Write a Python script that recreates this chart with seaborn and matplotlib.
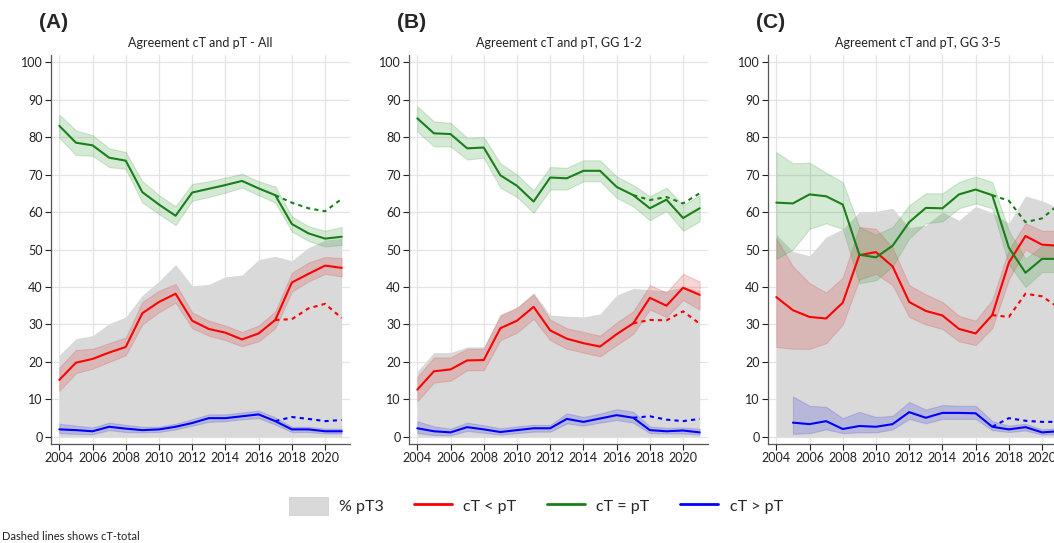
import numpy as np
import pandas as pd
import matplotlib
matplotlib.use("Agg")
import matplotlib.pyplot as plt
import seaborn as sns
from matplotlib.patches import Patch
from matplotlib.lines import Line2D

years = list(range(2004, 2022))
total_years = [2017, 2018, 2019, 2020, 2021]

titles = ["Agreement cT and pT - All", "Agreement cT and pT, GG 1-2", "Agreement cT and pT, GG 3-5"]
letters = ["(A)", "(B)", "(C)"]

# ---- panel A ----
A_pt3 = [21.8, 26.2, 27, 30.2, 32, 37.8, 41.5, 46, 40.3, 40.7, 42.7, 43.2, 47.3, 48.2, 47, 50.5, 52.5, 53]
A_green = [83, 78.5, 77.8, 74.5, 73.7, 65.3, 62, 59, 65.2, 66.2, 67.2, 68.3, 66.3, 64.5, 56.8, 54.3, 52.9, 53.4]
A_green_lo = [79.8, 75.2, 75, 72, 71.5, 62.5, 59.5, 56.5, 63, 64, 65.2, 66.5, 64.5, 62.5, 54.8, 52.3, 50.8, 51.2]
A_green_hi = [86, 81.8, 80.5, 77, 76, 68.2, 64.5, 61.5, 67.5, 68.2, 69.2, 70.2, 68.2, 66.8, 58.8, 56.2, 55, 56]
A_red = [15.2, 19.8, 20.8, 22.5, 24, 33, 36, 38.2, 31, 28.8, 27.8, 26, 27.6, 31.2, 41.2, 43.5, 45.7, 45.1]
A_red_lo = [12.3, 17, 18.2, 20, 21.8, 30, 33.3, 35.8, 29, 27, 25.8, 24.2, 25.5, 29, 38.8, 41.5, 43.5, 42.8]
A_red_hi = [18.5, 23.2, 23.5, 25, 26.5, 36, 39, 40.8, 33.2, 31, 29.7, 28, 29.7, 33.5, 43.8, 46.5, 48, 47.7]
A_blue = [2, 1.8, 1.5, 2.7, 2.2, 1.8, 2, 2.7, 3.7, 5, 5, 5.5, 6, 4.2, 2, 2, 1.5, 1.5]
A_blue_lo = [1, 0.8, 0.7, 1.8, 1.3, 1.2, 1.3, 2, 3, 4, 4.2, 4.7, 5, 3.3, 1.3, 1.3, 0.9, 0.9]
A_blue_hi = [3.5, 3, 2.5, 3.8, 3.2, 2.7, 2.7, 3.5, 4.7, 6, 6, 6.5, 7, 5.2, 2.7, 2.7, 2.2, 2.2]
A_green_total = [64.5, 62.5, 61, 60.2, 63.5]
A_red_total = [31.2, 31.4, 34.3, 35.5, 31.7]
A_blue_total = [4.2, 5.3, 4.8, 4.2, 4.5]

# ---- panel B ----
B_pt3 = [17.5, 22.5, 22.5, 24, 24, 32.5, 34.5, 38.5, 32.5, 32.2, 32, 32.8, 37.8, 39.6, 39.3, 39, 40, 39]
B_green = [85, 81, 80.8, 77, 77.2, 69.8, 67, 62.8, 69.2, 69, 71, 71, 66.7, 64.5, 61, 63.3, 58.4, 61]
B_green_lo = [81.5, 77.5, 77.5, 74, 74.5, 66.5, 64, 59.8, 66, 66, 68.2, 68.2, 63.8, 61.5, 57.8, 60.3, 55, 57.5]
B_green_hi = [88.2, 84.2, 83.8, 79.8, 80, 73, 70, 65.8, 72, 71.8, 73.8, 73.8, 69.5, 67.2, 64.2, 66.5, 61.8, 64.5]
B_red = [12.6, 17.5, 18, 20.4, 20.5, 29, 31, 34.7, 28.4, 26.2, 25, 24.1, 27.4, 30.3, 37.1, 35, 39.8, 37.9]
B_red_lo = [9.5, 14.5, 15, 17.8, 17.8, 25.8, 27.8, 31.5, 25.8, 23.5, 22.5, 21.5, 24.5, 27.5, 34, 32, 36.5, 34]
B_red_hi = [16, 21.2, 21.2, 23.5, 23.5, 32.5, 34.5, 38, 31.3, 29, 28, 27, 30.5, 33.5, 40.5, 38.5, 43.5, 41.5]
B_blue = [2.3, 1.5, 1.2, 2.6, 2, 1.3, 1.8, 2.3, 2.3, 4.8, 4, 4.9, 5.8, 5.1, 1.8, 1.5, 1.7, 1.2]
B_blue_lo = [1, 0.5, 0.4, 1.6, 1.1, 0.6, 1, 1.4, 1.4, 3.6, 3, 3.8, 4.5, 3.8, 1, 0.9, 0.9, 0.6]
B_blue_hi = [4.2, 2.8, 2.2, 3.8, 3.1, 2.3, 2.8, 3.2, 3.2, 6.3, 5.3, 6.2, 7.4, 6.7, 2.8, 2.4, 2.5, 2.2]
B_green_total = [64.5, 63.2, 64, 62.3, 65]
B_red_total = [30.3, 31.2, 31.1, 33.5, 30.2]
B_blue_total = [5.1, 5.5, 4.6, 4.2, 4.8]

# ---- panel C ----
C_pt3 = [54, 49.5, 48.3, 53.3, 55.5, 60, 60.2, 61, 55.8, 56.5, 60, 57.8, 61.5, 59.8, 57, 64.3, 63, 61]
C_green = [62.5, 62.3, 64.7, 64.2, 62, 48.6, 47.9, 51, 57.3, 61.1, 61, 64.7, 66, 64.5, 50.5, 43.8, 47.5, 47.5]
C_green_lo = [47.5, 50, 55.5, 57, 55.5, 41, 41.8, 45.5, 53, 57, 57.5, 61, 62.3, 61, 46, 40, 44, 44]
C_green_hi = [76, 73, 73.2, 70.5, 68, 56, 54, 56, 61.8, 65, 65, 68, 69.5, 68, 55, 47.5, 51, 51]
C_red = [37.3, 33.8, 32, 31.6, 35.8, 48.5, 49.3, 45.5, 36, 33.6, 32.4, 28.8, 27.6, 32.5, 46.5, 53.6, 51.3, 51]
C_red_lo = [24, 23.5, 23.5, 25, 30, 42, 43.5, 40.5, 32, 30, 28.8, 25.5, 24.5, 29, 42, 50, 47.5, 47.5]
C_red_hi = [53, 45.5, 41, 38.5, 42.5, 56, 55.5, 50.5, 40.5, 38, 36, 32.3, 31, 36.5, 50, 57, 55, 55]
C_blue = [np.nan, 3.8, 3.4, 4.2, 2.1, 2.9, 2.7, 3.4, 6.6, 5.1, 6.4, 6.4, 6.3, 2.7, 2, 2.6, 1.2, 1.5]
C_blue_lo = [np.nan, 0.8, 1, 2, 1, 1.2, 1.2, 2, 4.8, 3.6, 4.8, 4.8, 4.8, 1.8, 1.3, 1.7, 0.6, 0.8]
C_blue_hi = [np.nan, 10.8, 8.3, 8, 5, 6.7, 5.3, 5.6, 9.3, 7.3, 8.5, 8.3, 8.3, 4.2, 3, 3.5, 2, 2.3]
C_green_total = [64.5, 63, 57.3, 58.3, 62]
C_red_total = [32.5, 32, 38.2, 37.5, 34.5]
C_blue_total = [2.7, 5, 4.3, 4, 4]

panels = [
    (A_pt3, [(A_red, A_red_lo, A_red_hi, A_red_total),
             (A_green, A_green_lo, A_green_hi, A_green_total),
             (A_blue, A_blue_lo, A_blue_hi, A_blue_total)]),
    (B_pt3, [(B_red, B_red_lo, B_red_hi, B_red_total),
             (B_green, B_green_lo, B_green_hi, B_green_total),
             (B_blue, B_blue_lo, B_blue_hi, B_blue_total)]),
    (C_pt3, [(C_red, C_red_lo, C_red_hi, C_red_total),
             (C_green, C_green_lo, C_green_hi, C_green_total),
             (C_blue, C_blue_lo, C_blue_hi, C_blue_total)]),
]

line_colors = ["#ff0000", "#1a7f1a", "#0000ff"]
band_colors = ["#d94040", "#3fa03f", "#4040e0"]
gray = "#d9d9d9"

sns.set_style("whitegrid", {"grid.color": "#e4e4e4", "axes.edgecolor": "#555555"})
plt.rcParams["font.family"] = ["Lato", "DejaVu Sans"]

fig = plt.figure(figsize=(10.54, 5.43), dpi=100)
lefts = [51 / 1054, 409 / 1054, 768 / 1054]
width = 299 / 1054
bottom = 99 / 543
height = 389 / 543

for i, (pt3, series) in enumerate(panels):
    ax = fig.add_axes([lefts[i], bottom, width, height])
    ax.fill_between(years, 0, pt3, color=gray, lw=0, zorder=1)
    for k, (mean, lo, hi, tot) in enumerate(series):
        ax.fill_between(years, lo, hi, facecolor=band_colors[k], alpha=0.22,
                        edgecolor=band_colors[k], lw=0.8, zorder=2)
        df = pd.DataFrame({"year": years, "val": mean})
        sns.lineplot(data=df, x="year", y="val", ax=ax, color=line_colors[k],
                     lw=1.5, zorder=4)
        dft = pd.DataFrame({"year": total_years, "val": tot})
        sns.lineplot(data=dft, x="year", y="val", ax=ax, color=line_colors[k],
                     lw=1.5, dashes=False, zorder=3, linestyle=(0, (2, 2)))
    ax.set_xlim(2003.5, 2021.5)
    ax.set_ylim(-1.9, 101.9)
    ax.set_xticks(range(2004, 2022, 2))
    ax.set_yticks(range(0, 101, 10))
    ax.set_xlabel("")
    ax.set_ylabel("")
    ax.tick_params(axis="both", labelsize=9, colors="#222222", length=4,
                   width=0.8, direction="out", bottom=True, left=True, pad=2)
    ax.grid(True, color="#e4e4e4", lw=0.9)
    for s in ["top", "right"]:
        ax.spines[s].set_visible(False)
    for s in ["left", "bottom"]:
        ax.spines[s].set_color("#555555")
        ax.spines[s].set_linewidth(0.9)
    ax.set_title(titles[i], fontsize=9, pad=6, color="#222222")
    fig.text(lefts[i] - 12 / 1054, 1 - 22 / 543, letters[i], fontsize=15,
             fontweight="bold", family=["Liberation Sans", "DejaVu Sans"],
             va="center", ha="left")

handles = [
    Patch(facecolor=gray, edgecolor="#cccccc", lw=0.5),
    Line2D([], [], color=line_colors[0], lw=2),
    Line2D([], [], color=line_colors[1], lw=2),
    Line2D([], [], color=line_colors[2], lw=2),
]
labels = ["% pT3", "cT < pT", "cT = pT", "cT > pT"]
fig.legend(handles, labels, loc="center", bbox_to_anchor=(536 / 1054, 1 - 506 / 543),
           ncol=4, frameon=False, fontsize=11.5, handlelength=2.4, handleheight=1.4,
           columnspacing=1.9, handletextpad=0.7)

fig.text(2 / 1054, 1 - 537 / 543, "Dashed lines shows cT-total", fontsize=8,
         va="center", ha="left", color="#222222")

fig.savefig("out.png", dpi=100)
